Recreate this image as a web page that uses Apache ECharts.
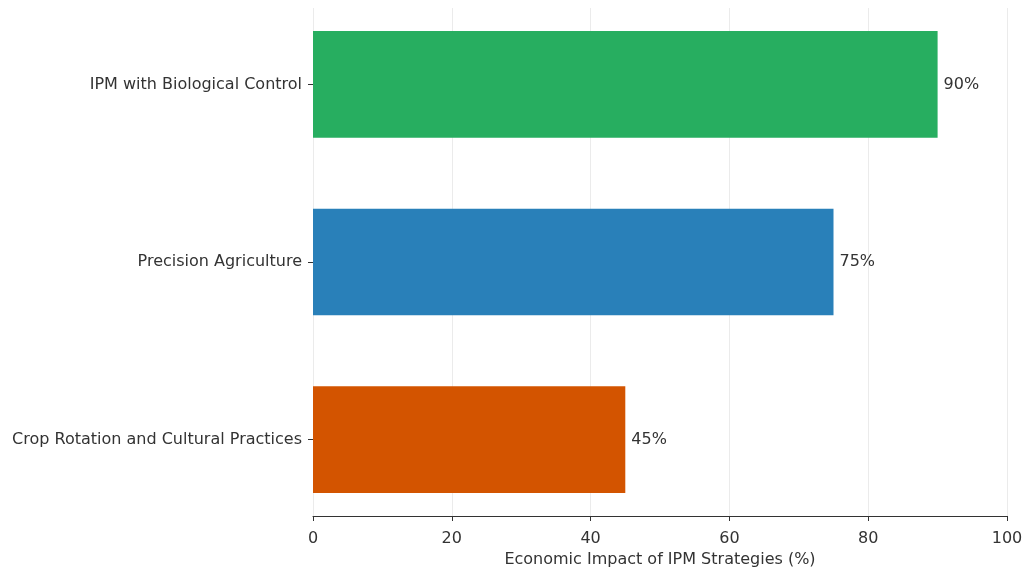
<!DOCTYPE html>
<html lang="en">
<head>
    <meta charset="UTF-8">
    <title>Economic Impact of IPM Strategies</title>
    <script src="https://cdn.jsdelivr.net/npm/echarts@6.0.0/dist/echarts.min.js"></script>
    <style>
        html, body { margin: 0; padding: 0; background: #fff; }
        #chart { width: 1033px; height: 568px; }
    </style>
</head>
<body>
    <div id="chart"></div>
    <script>
        // data, bottom to top
        const categories = ['Crop Rotation and Cultural Practices', 'Precision Agriculture', 'IPM with Biological Control'];
        const impact = [45, 75, 90];
        const xTicks = [0, 20, 40, 60, 80, 100];

        const barColors = ['#d35400', '#2980b9', '#27ae60'];
        const font = '"DejaVu Sans", sans-serif';

        const chart = echarts.init(document.getElementById('chart'));
        const option = {
            animation: false,
            grid: { left: 313, right: 26, top: 8, bottom: 52, outerBoundsMode: 'none' },
            xAxis: {
                type: 'value',
                min: xTicks[0],
                max: xTicks[xTicks.length - 1],
                interval: 20,
                name: 'Economic Impact of IPM Strategies (%)',
                nameLocation: 'middle',
                nameGap: 36,
                nameTextStyle: { fontFamily: font, fontSize: 16, color: '#333' },
                axisLine: { onZero: false, lineStyle: { color: '#333', width: 1 } },
                axisTick: { show: true, length: 5, lineStyle: { color: '#333' } },
                axisLabel: { fontFamily: font, fontSize: 16, color: '#333', margin: 15 },
                splitLine: { show: true, lineStyle: { color: '#ebebeb', width: 1 } }
            },
            yAxis: {
                type: 'value',
                min: -0.43,
                max: 2.43,
                axisLine: { show: false },
                axisTick: { show: true, length: 5, customValues: [0, 1, 2], lineStyle: { color: '#333' } },
                axisLabel: {
                    customValues: [0, 1, 2],
                    formatter: v => categories[Math.round(v)],
                    fontFamily: font, fontSize: 16, color: '#333', margin: 11
                },
                splitLine: { show: false }
            },
            series: [{
                type: 'custom',
                encode: { x: 0, y: 1 },
                data: impact.map((v, i) => [v, i]),
                renderItem: function (params, api) {
                    const idx = api.value(1);
                    const start = api.coord([0, idx]);
                    const end = api.coord([api.value(0), idx]);
                    const h = api.size([0, 0.6])[1];
                    return {
                        type: 'group',
                        children: [
                            {
                                type: 'rect',
                                shape: { x: start[0], y: start[1] - h / 2, width: end[0] - start[0], height: h },
                                style: { fill: barColors[idx] }
                            },
                            {
                                type: 'text',
                                style: {
                                    text: api.value(0) + '%',
                                    x: end[0] + 6,
                                    y: end[1],
                                    verticalAlign: 'middle',
                                    fill: '#333',
                                    font: '16px ' + font
                                }
                            }
                        ]
                    };
                }
            }]
        };
        chart.setOption(option);
    </script>
</body>
</html>
